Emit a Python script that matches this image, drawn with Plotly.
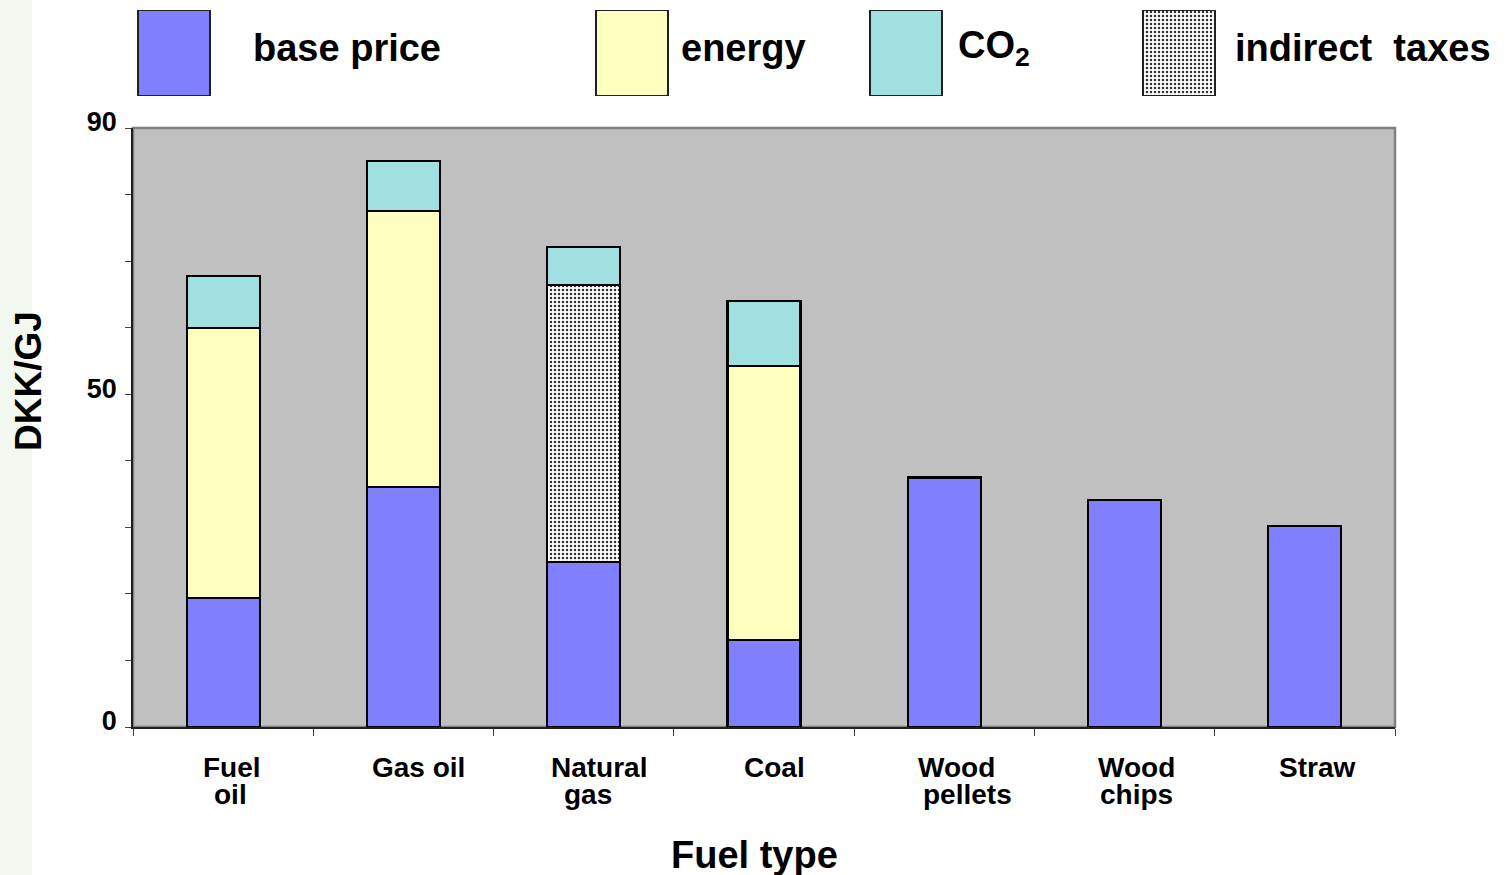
import plotly.graph_objects as go

# Fuel prices, DKK/GJ, split into price components
categories = ["Fuel oil", "Gas oil", "Natural gas", "Coal", "Wood pellets", "Wood chips", "Straw"]
label_lines = [["Fuel", "oil"], ["Gas oil"], ["Natural", "gas"], ["Coal"],
               ["Wood", "pellets"], ["Wood", "chips"], ["Straw"]]
base_price = [19.4, 36.1, 24.8, 13.1, 37.5, 34.1, 30.2]
energy_tax = [40.5, 41.4, None, 41.2, None, None, None]
indirect_taxes = [None, None, 41.6, None, None, None, None]
co2_tax = [7.9, 7.5, 5.7, 9.7, None, None, None]

y_tickvals = [0, 50, 90]
y_ticktext = ["0", "50", "90"]

legend_names = ["base price", "energy", "CO<sub>2</sub>", "indirect\u00a0 taxes"]

C_BASE = "#8080FF"
C_ENERGY = "#FFFFC0"
C_CO2 = "#A0E0E0"
C_BG = "#C0C0C0"
FONT = "Liberation Sans"

# page geometry (pixels)
W, H = 1508, 875
ML, MR, MT, MB = 133, 113, 10, 148
PW, PH = W - ML - MR, H - MT - MB
MAIN_TOP = 128  # top edge of the gray plotting area


def px_x(px):
    return (px - ML) / PW


def px_y(py):
    return (H - MB - py) / PH


outline = dict(color="black", width=2.2)
indirect_pattern = dict(shape=".", size=4, solidity=0.3, fgcolor="#303030",
                        bgcolor="white", fillmode="replace")

fig = go.Figure()
fig.add_bar(x=categories, y=base_price, name="base price",
            marker=dict(color=C_BASE, line=outline))
fig.add_bar(x=categories, y=energy_tax, name="energy",
            marker=dict(color=C_ENERGY, line=outline))
fig.add_bar(x=categories, y=indirect_taxes, name="indirect taxes",
            marker=dict(color="white", line=outline, pattern=indirect_pattern))
fig.add_bar(x=categories, y=co2_tax, name="CO2",
            marker=dict(color=C_CO2, line=outline))

# legend swatches drawn on their own small axis above the plot
sw_left = [138, 596, 870, 1143]
sw_w = 72
sw_colors = [C_BASE, C_ENERGY, C_CO2, "white"]
for i, (xl, col) in enumerate(zip(sw_left, sw_colors)):
    mk = dict(color=col, line=dict(color="#202020", width=1.5))
    if i == 3:
        mk["pattern"] = indirect_pattern
    fig.add_bar(x=[xl + sw_w / 2], y=[1], width=[sw_w], marker=mk,
                xaxis="x2", yaxis="y2", showlegend=False, hoverinfo="skip")

text_left = [251, 679, 956, 1233]
for name, xl in zip(legend_names, text_left):
    fig.add_annotation(text=name, xref="paper", yref="paper", x=px_x(xl), y=px_y(48),
                       xanchor="left", yanchor="middle", showarrow=False,
                       font=dict(family=FONT, size=38, color="black", weight="bold"))

# category labels with tight line spacing
label_shift = [[9, 7], [15], [15, 4], [10], [12, 23], [12, 12], [12]]
line_y = [767, 794]
for cat, lines, shifts in zip(categories, label_lines, label_shift):
    for j, (txt, sh) in enumerate(zip(lines, shifts)):
        fig.add_annotation(text=txt, xref="x", yref="paper", x=cat, y=px_y(line_y[j]),
                           xshift=sh, xanchor="center", yanchor="middle", showarrow=False,
                           borderpad=0,
                           font=dict(family=FONT, size=28, color="black", weight="bold"))

# axis titles
fig.add_annotation(text="Fuel type", xref="paper", yref="paper", x=px_x(754), y=px_y(855),
                   xanchor="center", yanchor="middle", showarrow=False,
                   font=dict(family=FONT, size=38, color="black", weight="bold"))
fig.add_annotation(text="DKK/GJ", xref="paper", yref="paper", x=px_x(28), y=px_y(381),
                   xanchor="center", yanchor="middle", textangle=-90, showarrow=False,
                   font=dict(family=FONT, size=37, color="black", weight="bold"))

main_domain_top = px_y(MAIN_TOP)

fig.update_layout(
    width=W, height=H,
    margin=dict(l=ML, r=MR, t=MT, b=MB, pad=0, autoexpand=False),
    paper_bgcolor="white", plot_bgcolor="rgba(0,0,0,0)",
    barmode="stack", bargap=0.595, showlegend=False,
    font=dict(family=FONT, color="black"),
    xaxis=dict(domain=[0, 1], type="category", tickson="boundaries", ticks="outside",
               ticklen=7, tickcolor="#404040", tickwidth=1, showticklabels=False,
               showline=True, linecolor="#202020", linewidth=1.5, showgrid=False,
               anchor="y", fixedrange=True, automargin=False),
    yaxis=dict(domain=[0, main_domain_top], range=[0, 90], tickvals=y_tickvals,
               ticktext=y_ticktext, ticks="outside", ticklen=6, tickcolor="#404040",
               tickwidth=1, showline=True, linecolor="#202020", linewidth=1.5,
               showgrid=False, zeroline=False, ticklabelstandoff=3, ticklabelshift=-6,
               tickfont=dict(family=FONT, size=27, color="black", weight="bold"),
               minor=dict(dtick=10, ticks="outside", ticklen=6, tickcolor="#404040",
                          tickwidth=1, showgrid=False),
               anchor="x", automargin=False),
    xaxis2=dict(domain=[0, 1], range=[ML, W - MR], visible=False, anchor="y2",
                fixedrange=True, automargin=False),
    yaxis2=dict(domain=[px_y(96), px_y(10)], range=[0, 1], visible=False, anchor="x2",
                fixedrange=True, automargin=False),
    shapes=[
        # pale green strip along the left edge of the page
        dict(type="rect", xref="paper", yref="paper", x0=px_x(0), x1=px_x(32),
             y0=px_y(H), y1=px_y(0), fillcolor="#F2F7EF", line=dict(width=0),
             layer="below"),
        # gray plotting area with its frame
        dict(type="rect", xref="x domain", yref="y domain", x0=0, x1=1, y0=0, y1=1,
             fillcolor=C_BG, line=dict(color="#808080", width=2.5), layer="below"),
    ],
)

fig.write_html("out.html")
